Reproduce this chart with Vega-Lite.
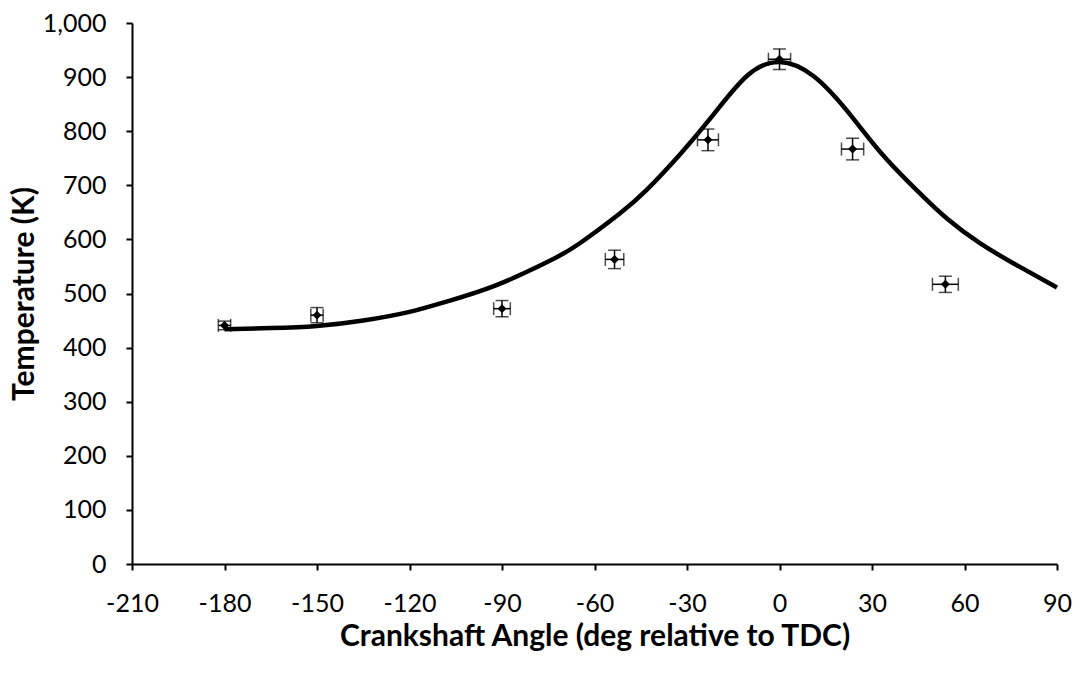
{
  "$schema": "https://vega.github.io/schema/vega-lite/v6.json",
  "width": 925,
  "height": 541,
  "autosize": {"type": "none"},
  "padding": {"left": 132, "top": 23, "right": 28, "bottom": 117},
  "background": "white",
  "config": {
    "view": {"stroke": null},
    "font": "Lato",
    "axis": {
      "grid": false,
      "domainColor": "black",
      "domainWidth": 2,
      "tickColor": "black",
      "tickWidth": 2,
      "tickSize": 6,
      "labelColor": "black",
      "labelFont": "Lato",
      "labelFontSize": 25,
      "labelFlush": false,
      "labelOverlap": false,
      "titleColor": "black",
      "titleFont": "Lato",
      "titleFontWeight": "bold",
      "titleFontSize": 30
    }
  },
  "datasets": {
    "curve": [
      {"angle": -180, "temp": 434},
      {"angle": -165, "temp": 436},
      {"angle": -150, "temp": 440},
      {"angle": -135, "temp": 450},
      {"angle": -120, "temp": 466},
      {"angle": -108, "temp": 485},
      {"angle": -92, "temp": 515},
      {"angle": -75, "temp": 559},
      {"angle": -65, "temp": 592},
      {"angle": -52, "temp": 647},
      {"angle": -43, "temp": 692},
      {"angle": -32, "temp": 759},
      {"angle": -21.5, "temp": 830},
      {"angle": -10.6, "temp": 902},
      {"angle": 0, "temp": 928},
      {"angle": 11, "temp": 902},
      {"angle": 22, "temp": 837},
      {"angle": 32.6, "temp": 762},
      {"angle": 43.4, "temp": 697},
      {"angle": 54.2, "temp": 639},
      {"angle": 65, "temp": 593},
      {"angle": 75.8, "temp": 556},
      {"angle": 90, "temp": 511}
    ],
    "pts": [
      {"angle": -180, "temp": 441, "tlo": 433, "thi": 449, "alo": -182, "ahi": -178},
      {"angle": -150, "temp": 460, "tlo": 446, "thi": 474, "alo": -152, "ahi": -148},
      {"angle": -90, "temp": 472, "tlo": 457, "thi": 487, "alo": -92.7, "ahi": -87.3},
      {"angle": -53.5, "temp": 563, "tlo": 546, "thi": 580, "alo": -56.5, "ahi": -50.5},
      {"angle": -23.2, "temp": 784, "tlo": 764, "thi": 804, "alo": -26.6, "ahi": -19.8},
      {"angle": 0, "temp": 933, "tlo": 914, "thi": 952, "alo": -3.6, "ahi": 3.6},
      {"angle": 23.7, "temp": 767, "tlo": 747, "thi": 787, "alo": 20.1, "ahi": 27.3},
      {"angle": 53.8, "temp": 517, "tlo": 502, "thi": 532, "alo": 49.6, "ahi": 58.0}
    ]
  },
  "layer": [
    {
      "data": {"name": "curve"},
      "mark": {"type": "line", "color": "black", "strokeWidth": 4.5, "interpolate": "natural"},
      "encoding": {
        "x": {"field": "angle", "type": "quantitative", "title": "Crankshaft Angle (deg relative to TDC)",
          "scale": {"domain": [-210, 90], "nice": false, "zero": false},
          "axis": {"values": [-210, -180, -150, -120, -90, -60, -30, 0, 30, 60, 90], "labelExpr": "'' + datum.value", "labelPadding": 21, "titlePadding": 5}},
        "y": {"field": "temp", "type": "quantitative", "title": "Temperature (K)",
          "scale": {"domain": [0, 1000], "nice": false},
          "axis": {"values": [0, 100, 200, 300, 400, 500, 600, 700, 800, 900, 1000], "format": ",d", "labelPadding": 20, "titlePadding": 3}}
      }
    },
    {
      "data": {"name": "pts"},
      "mark": {"type": "rule", "color": "black", "strokeWidth": 1.5},
      "encoding": {
        "x": {"field": "angle", "type": "quantitative", "title": "Crankshaft Angle (deg relative to TDC)"},
        "y": {"field": "tlo", "type": "quantitative", "title": "Temperature (K)"},
        "y2": {"field": "thi"}
      }
    },
    {
      "data": {"name": "pts"},
      "mark": {"type": "rule", "color": "black", "strokeWidth": 1.5},
      "encoding": {
        "x": {"field": "alo", "type": "quantitative", "title": "Crankshaft Angle (deg relative to TDC)"},
        "x2": {"field": "ahi"},
        "y": {"field": "temp", "type": "quantitative", "title": "Temperature (K)"}
      }
    },
    {
      "data": {"name": "pts"},
      "mark": {"type": "tick", "orient": "horizontal", "color": "black", "size": 13, "thickness": 1.5},
      "encoding": {
        "x": {"field": "angle", "type": "quantitative", "title": "Crankshaft Angle (deg relative to TDC)"},
        "y": {"field": "tlo", "type": "quantitative", "title": "Temperature (K)"}
      }
    },
    {
      "data": {"name": "pts"},
      "mark": {"type": "tick", "orient": "horizontal", "color": "black", "size": 13, "thickness": 1.5},
      "encoding": {
        "x": {"field": "angle", "type": "quantitative", "title": "Crankshaft Angle (deg relative to TDC)"},
        "y": {"field": "thi", "type": "quantitative", "title": "Temperature (K)"}
      }
    },
    {
      "data": {"name": "pts"},
      "mark": {"type": "tick", "orient": "vertical", "color": "black", "size": 13, "thickness": 1.5},
      "encoding": {
        "x": {"field": "alo", "type": "quantitative", "title": "Crankshaft Angle (deg relative to TDC)"},
        "y": {"field": "temp", "type": "quantitative", "title": "Temperature (K)"}
      }
    },
    {
      "data": {"name": "pts"},
      "mark": {"type": "tick", "orient": "vertical", "color": "black", "size": 13, "thickness": 1.5},
      "encoding": {
        "x": {"field": "ahi", "type": "quantitative", "title": "Crankshaft Angle (deg relative to TDC)"},
        "y": {"field": "temp", "type": "quantitative", "title": "Temperature (K)"}
      }
    },
    {
      "data": {"name": "pts"},
      "mark": {"type": "point", "shape": "diamond", "filled": true, "color": "black", "opacity": 1, "size": 80},
      "encoding": {
        "x": {"field": "angle", "type": "quantitative", "title": "Crankshaft Angle (deg relative to TDC)"},
        "y": {"field": "temp", "type": "quantitative", "title": "Temperature (K)"}
      }
    }
  ]
}
